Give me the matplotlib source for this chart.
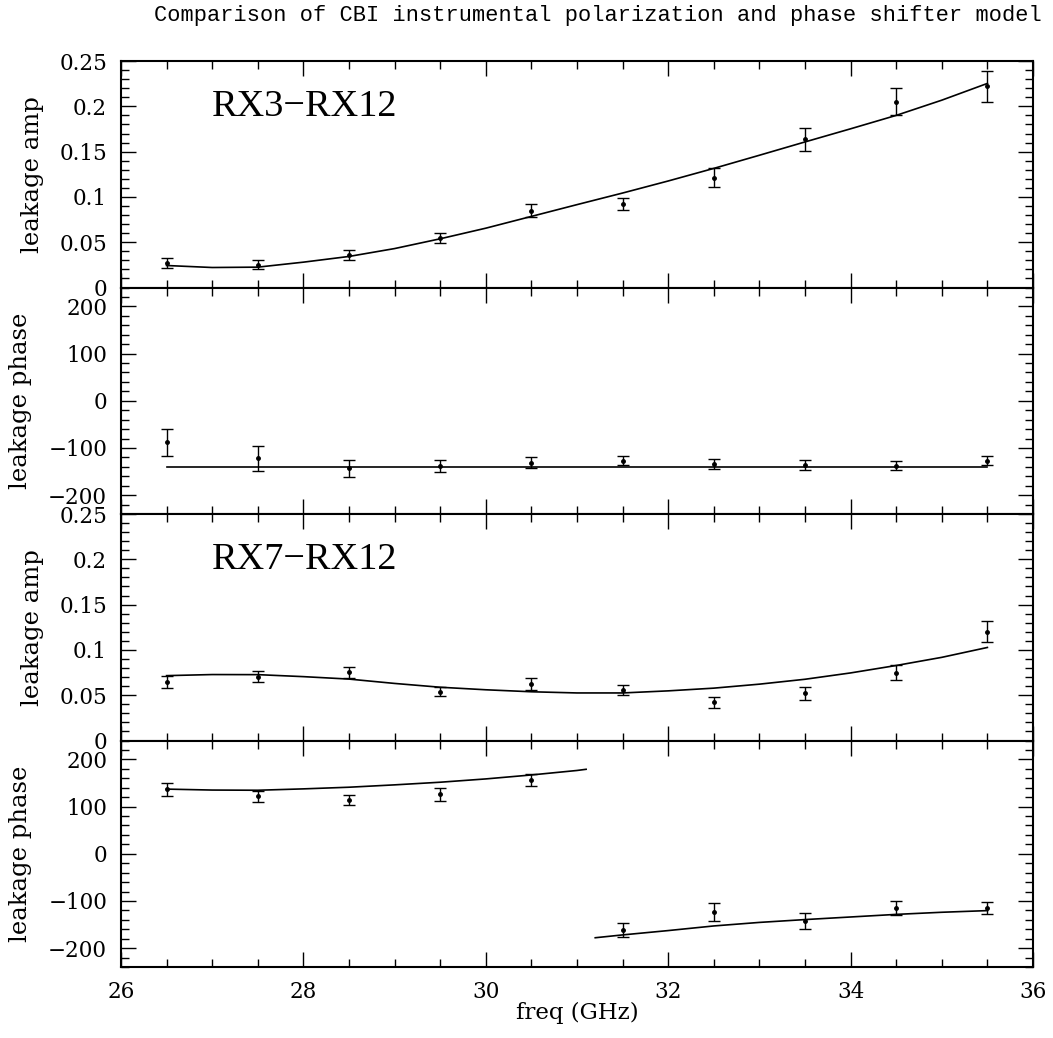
import matplotlib
matplotlib.use("Agg")
import matplotlib.pyplot as plt
from matplotlib.ticker import MultipleLocator, FuncFormatter

plt.rcParams['font.family'] = ['DejaVu Serif', 'DejaVu Sans']

freq = [26.5, 27.5, 28.5, 29.5, 30.5, 31.5, 32.5, 33.5, 34.5, 35.5]

# RX3-RX12 measured leakage
amp3 = [0.0269, 0.0254, 0.0354, 0.0546, 0.0848, 0.0920, 0.1213, 0.1634, 0.2052, 0.2220]
amp3_err = [0.0057, 0.0053, 0.0055, 0.0060, 0.0070, 0.0065, 0.0104, 0.0124, 0.0153, 0.0173]
phase3 = [-88, -122, -143, -138, -131, -127, -134, -136, -138, -127]
phase3_err = [28, 26, 18, 13, 11, 9.5, 10, 10, 9.5, 10]

# RX7-RX12 measured leakage
amp7 = [0.0650, 0.0705, 0.0753, 0.0540, 0.0622, 0.0559, 0.0424, 0.0519, 0.0749, 0.1199]
amp7_err = [0.0066, 0.0060, 0.0060, 0.0050, 0.0064, 0.0057, 0.0060, 0.0068, 0.0084, 0.0117]
phase7 = [137, 122, 114, 126, 156, -161, -124, -143, -115, -115]
phase7_err = [14, 12, 10.5, 13.5, 13, 14.5, 19, 16.5, 14, 12.5]

# phase shifter model curves
model_f = [26.5, 27, 27.5, 28, 28.5, 29, 29.5, 30, 30.5, 31, 31.5,
           32, 32.5, 33, 33.5, 34, 34.5, 35, 35.5]
model_amp3 = [0.0243, 0.0221, 0.0225, 0.0280, 0.0343, 0.0430, 0.0538, 0.0655, 0.0785,
              0.0915, 0.1043, 0.1176, 0.1315, 0.1460, 0.1607, 0.1752, 0.1900, 0.2068, 0.2253]
model_phase3_f = [26.5, 35.5]
model_phase3 = [-140, -140]
model_amp7 = [0.0716, 0.0728, 0.0727, 0.0705, 0.0678, 0.0630, 0.0588, 0.0560, 0.0538,
              0.0525, 0.0525, 0.0548, 0.0578, 0.0622, 0.0676, 0.0746, 0.0828, 0.0918, 0.1027]
model_phase7_f1 = [26.5, 27, 27.5, 28, 28.5, 29, 29.5, 30, 30.5, 31, 31.1]
model_phase7_1 = [137, 135, 134.6, 137.5, 141, 146, 151.6, 158.6, 167, 176.5, 179]
model_phase7_f2 = [31.2, 31.5, 32, 32.5, 33, 33.5, 34, 34.5, 35, 35.5]
model_phase7_2 = [-178, -172, -162.8, -153, -145.5, -139.5, -134, -128.5, -124, -120.5]

fig = plt.figure(figsize=(10.53, 10.38), dpi=100)
axes = fig.subplots(4, 1, sharex=True)
fig.subplots_adjust(left=0.1149, right=0.981, top=0.9412, bottom=0.0684, hspace=0)

fs_tick = 15.5
eb_kw = dict(fmt='o', color='k', markersize=2.5, elinewidth=1.0, capsize=4, capthick=1.0)

panels = [
    (amp3, amp3_err, 'amp'),
    (phase3, phase3_err, 'phase'),
    (amp7, amp7_err, 'amp'),
    (phase7, phase7_err, 'phase'),
]

for ax, (vals, errs, kind) in zip(axes, panels):
    ax.errorbar(freq, vals, yerr=errs, **eb_kw)
    ax.set_xlim(26, 36)
    if kind == 'amp':
        ax.set_ylim(0, 0.25)
        ax.yaxis.set_major_locator(MultipleLocator(0.05))
        ax.yaxis.set_minor_locator(MultipleLocator(0.01))
        ax.yaxis.set_major_formatter(FuncFormatter(lambda v, p: '%g' % round(v, 3)))
        ax.set_ylabel('leakage amp', fontsize=17.5, va='center')
        ax.yaxis.set_label_coords(-0.0965, 0.5)
    else:
        ax.set_ylim(-240, 240)
        ax.yaxis.set_major_locator(MultipleLocator(100))
        ax.yaxis.set_minor_locator(MultipleLocator(20))
        ax.yaxis.set_major_formatter(FuncFormatter(lambda v, p: ('%d' % v).replace('-', '\u2212')))
        ax.set_ylabel('leakage phase', fontsize=17.5, va='center')
        ax.yaxis.set_label_coords(-0.1107, 0.5)
    ax.xaxis.set_major_locator(MultipleLocator(2))
    ax.xaxis.set_minor_locator(MultipleLocator(0.5))
    ax.tick_params(which='both', direction='in', top=True, right=True, width=1.0,
                   labelsize=fs_tick, pad=10)
    ax.tick_params(which='major', length=11)
    ax.tick_params(which='minor', length=6)
    for s in ax.spines.values():
        s.set_linewidth(1.5)

axes[0].plot(model_f, model_amp3, color='k', lw=1.2)
axes[1].plot(model_phase3_f, model_phase3, color='k', lw=1.2)
axes[2].plot(model_f, model_amp7, color='k', lw=1.2)
axes[3].plot(model_phase7_f1, model_phase7_1, color='k', lw=1.2)
axes[3].plot(model_phase7_f2, model_phase7_2, color='k', lw=1.2)

axes[0].text(27.0, 0.2, 'RX3\u2212RX12', fontsize=27.5, va='center', ha='left',
             family=['Liberation Serif', 'DejaVu Serif'])
axes[2].text(27.0, 0.2, 'RX7\u2212RX12', fontsize=27.5, va='center', ha='left',
             family=['Liberation Serif', 'DejaVu Serif'])

axes[3].set_xlabel('freq (GHz)', fontsize=16.5, va='center')
axes[3].xaxis.set_label_coords(0.5, -0.2035)

fig.text(0.9896, 0.9846, 'Comparison of CBI instrumental polarization and phase shifter model',
         ha='right', va='center', fontsize=15.8, family=['Liberation Mono', 'DejaVu Sans Mono'])

fig.savefig('out.png', dpi=100)
